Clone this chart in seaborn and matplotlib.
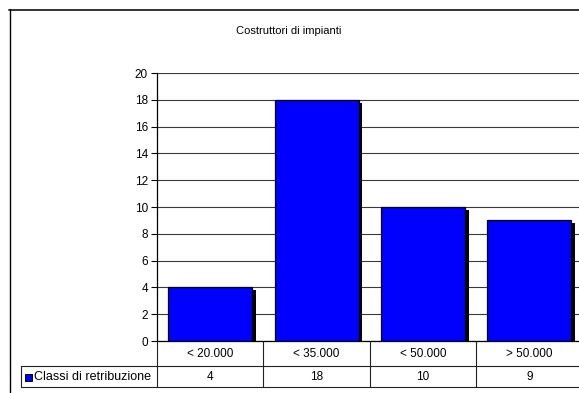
import matplotlib
matplotlib.use("Agg")
import matplotlib.pyplot as plt
import matplotlib.patheffects as pe
from matplotlib.lines import Line2D
from matplotlib.patches import Rectangle
from matplotlib.transforms import blended_transform_factory
import seaborn as sns

# Data
categories = ["< 20.000", "< 35.000", "< 50.000", "> 50.000"]
values = [4, 18, 10, 9]
series_name = "Classi di retribuzione"
title = "Costruttori di impianti"
y_ticks = list(range(0, 21, 2))

sns.set_theme(style="white")
plt.rcParams["font.family"] = ["Liberation Sans", "DejaVu Sans"]

W, H = 579, 393
fig = plt.figure(figsize=(W / 100, H / 100), dpi=100)
fig.patch.set_facecolor("white")


def fx(px):
    return px / W


def fy(py):
    return 1 - py / H


# Plot area
ax_left, ax_right, ax_top, ax_bottom = 157, 582.5, 73, 341
ax = fig.add_axes([fx(ax_left), fy(ax_bottom), fx(ax_right - ax_left), fy(ax_top) - fy(ax_bottom)])
ax.set_facecolor("white")

sns.barplot(x=categories, y=values, color="#0000FF", saturation=1, width=0.79,
            edgecolor="black", linewidth=0.9, ax=ax, zorder=3)
for bar in ax.patches:
    bar.set_path_effects([pe.SimplePatchShadow(offset=(2.6, -2.2), shadow_rgbFace="black", alpha=1.0),
                          pe.Normal()])

ax.set_xlim(-0.5, 3.5)
ax.set_ylim(0, 20)
ax.set_yticks(y_ticks)
ax.set_yticklabels([str(t) for t in y_ticks], fontsize=8.5, color="black")
ax.set_xticks([])
ax.set_xlabel("")
ax.set_ylabel("")
ax.yaxis.grid(True, color="#3a3a3a", linewidth=0.8, zorder=0)
ax.set_axisbelow(True)
ax.tick_params(axis="y", which="major", left=True, length=4, width=0.8, color="black", pad=2.5)
for side in ["top", "right"]:
    ax.spines[side].set_visible(False)
ax.spines["left"].set_color("black")
ax.spines["left"].set_linewidth(0.9)
ax.spines["bottom"].set_color("black")
ax.spines["bottom"].set_linewidth(0.9)

# Title
fig.text(fx(289), fy(31), title, ha="center", va="center", fontsize=8, color="black")

# Outer chart frame
fig.add_artist(Line2D([fx(9), fx(600)], [fy(9.5), fy(9.5)], transform=fig.transFigure,
                      color="#333333", linewidth=1.4))
fig.add_artist(Line2D([fx(9.5), fx(9.5)], [fy(9), fy(400)], transform=fig.transFigure,
                      color="black", linewidth=1.0))

# Data table below the axis
row1_top, row_mid, row_bot = 341, 366, 387
line_kw = dict(transform=fig.transFigure, color="#222222", linewidth=0.8)
fig.add_artist(Line2D([fx(21), fx(600)], [fy(row_mid), fy(row_mid)], **line_kw))
fig.add_artist(Line2D([fx(21), fx(600)], [fy(row_bot), fy(row_bot)], **line_kw))
fig.add_artist(Line2D([fx(21), fx(21)], [fy(row_mid), fy(row_bot)], **line_kw))
fig.add_artist(Line2D([fx(ax_left), fx(ax_left)], [fy(row1_top), fy(row_bot)], **line_kw))

xdata_yfig = blended_transform_factory(ax.transData, fig.transFigure)
for i in range(1, len(categories)):
    ax.add_artist(Line2D([i - 0.5, i - 0.5], [fy(row1_top), fy(row_bot)], transform=xdata_yfig,
                         color="#222222", linewidth=0.8, clip_on=False))

for i, (cat, val) in enumerate(zip(categories, values)):
    ax.text(i, fy(354), cat, transform=xdata_yfig, ha="center", va="center",
            fontsize=8.5, color="black", clip_on=False)
    ax.text(i, fy(377), str(val), transform=xdata_yfig, ha="center", va="center",
            fontsize=8.5, color="black", clip_on=False)

# Legend key in the table
fig.add_artist(Rectangle((fx(24.5), fy(380.5)), fx(7), fy(373.5) - fy(380.5), transform=fig.transFigure,
                         facecolor="#0000FF", edgecolor="black", linewidth=0.7))
fig.text(fx(34), fy(377), series_name, ha="left", va="center", fontsize=9, color="black")

fig.savefig("out.png", dpi=100)
